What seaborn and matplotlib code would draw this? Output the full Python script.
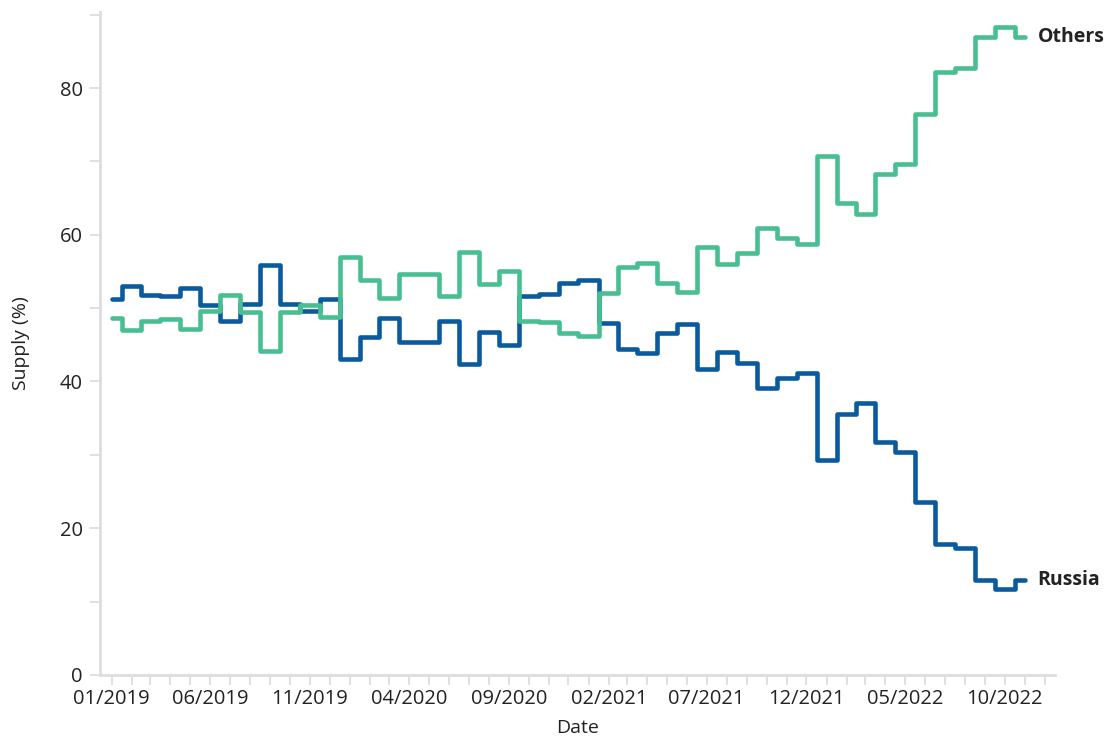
# %% Import packages

import pandas as pd
import seaborn as sns
import matplotlib
matplotlib.use('Agg')
import matplotlib.pyplot as plt

# %% Data (monthly share of supply)

months = pd.date_range('2019-01-01', '2022-11-01', freq='MS')

russia = [51.3, 53.0, 51.8, 51.6, 52.7, 50.4, 48.2, 50.5, 55.9, 50.5,
          49.6, 51.2, 43.0, 46.1, 48.6, 45.4, 45.4, 48.3, 42.4, 46.7,
          45.0, 51.7, 51.9, 53.4, 53.8, 48.0, 44.4, 43.9, 46.6, 47.8,
          41.7, 44.0, 42.5, 39.1, 40.5, 41.2, 29.3, 35.6, 37.1, 31.7,
          30.4, 23.6, 17.8, 17.3, 13.0, 11.7, 13.0]

others = [48.6, 47.0, 48.3, 48.5, 47.2, 49.6, 51.8, 49.5, 44.1, 49.5,
          50.4, 48.8, 57.0, 53.9, 51.4, 54.6, 54.6, 51.7, 57.6, 53.3,
          55.0, 48.3, 48.1, 46.6, 46.2, 52.0, 55.6, 56.1, 53.4, 52.2,
          58.3, 56.0, 57.5, 60.9, 59.5, 58.8, 70.7, 64.4, 62.9, 68.3,
          69.6, 76.4, 82.2, 82.7, 87.0, 88.3, 87.0]

series_names = ['Russia', 'Others']
colors = {'Russia': '#0a5a9e', 'Others': '#48bf91'}

# %% Set figure aesthetics

sns.set_theme(style='white')
plt.rcParams['font.family'] = ['Open Sans', 'DejaVu Sans']
TEXT = '#222222'
AXIS = '#dddddd'

# %% Build long dataframe

df = pd.concat([
    pd.DataFrame({'Date': months, 'Supply': russia, 'Country': 'Russia'}),
    pd.DataFrame({'Date': months, 'Supply': others, 'Country': 'Others'}),
])

# %% Step plot

fig, ax = plt.subplots(figsize=(11.07, 7.36), dpi=100)
fig.subplots_adjust(left=0.0903, right=0.953, bottom=0.083, top=0.984)

sns.lineplot(data=df, x='Date', y='Supply', hue='Country', palette=colors,
             drawstyle='steps-mid', linewidth=3.3, legend=False, ax=ax)

# end-of-line labels
for name, vals in zip(series_names, [russia, others]):
    ax.annotate(name, xy=(months[-1], vals[-1]), xytext=(9, 0),
                textcoords='offset points', va='center', ha='left',
                fontsize=14, fontweight='bold', color=TEXT)

ax.set_ylim(0, 90.4)
ax.set_xlim(pd.Timestamp('2018-12-14'), pd.Timestamp('2022-12-17'))

# y ticks: every 10, labelled every 20
ax.set_yticks(range(0, 91, 10))
ax.set_yticklabels([str(v) if v % 20 == 0 and v < 90 else '' for v in range(0, 91, 10)])

# x ticks: monthly, labelled every 5 months
tick_months = pd.date_range('2019-01-01', '2022-12-01', freq='MS')
ax.set_xticks(tick_months)
ax.set_xticklabels([d.strftime('%m/%Y') if i % 5 == 0 else '' for i, d in enumerate(tick_months)])

ax.tick_params(axis='both', length=7.5, width=1.3, color=AXIS, labelsize=14.5,
               labelcolor=TEXT, pad=3, bottom=True, left=True)
ax.tick_params(axis='y', pad=5)

sns.despine(ax=ax)
for side in ['left', 'bottom']:
    ax.spines[side].set_color(AXIS)
    ax.spines[side].set_linewidth(2)

ax.set_xlabel('Date', fontsize=14, color=TEXT, labelpad=7)
ax.set_ylabel('Supply (%)', fontsize=14, color=TEXT, labelpad=21)

plt.savefig('out.png', dpi=100)
